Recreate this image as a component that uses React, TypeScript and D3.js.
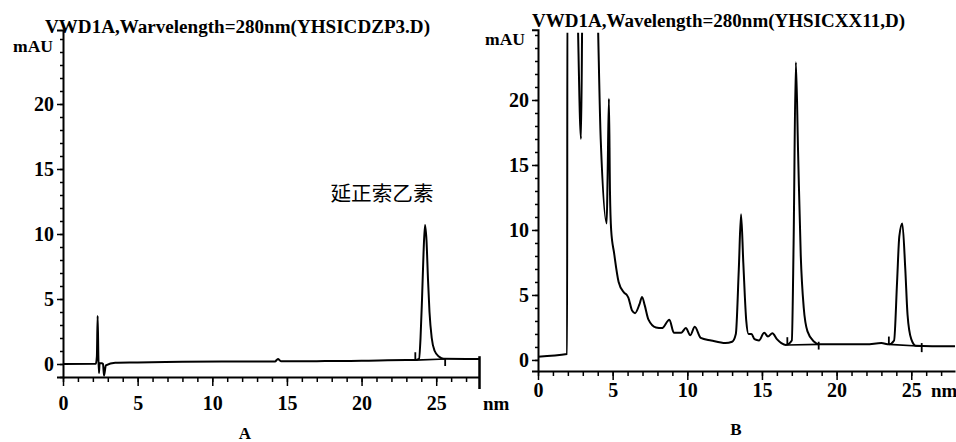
import React, { useEffect, useRef } from 'react';
import * as d3 from 'd3';

// Panel A: reference standard
const rtA = [0, 2.2, 2.27, 2.32, 2.37, 2.41, 2.45, 2.6, 2.68, 2.75, 2.87, 3.5, 5, 8, 12, 14.2, 14.4, 14.6, 17, 20, 23, 23.6, 23.85, 23.95, 24.05, 24.15, 24.25, 24.35, 24.45, 24.55, 24.7, 24.9, 25.2, 25.5, 27.9];
const mauA = [0, 0.02, 0.6, 3.7, 0.5, -0.7, 0.05, 0.05, 0, -0.9, -0.1, 0.1, 0.12, 0.17, 0.2, 0.2, 0.38, 0.22, 0.22, 0.25, 0.3, 0.3, 0.4, 2, 5, 8.5, 10.7, 9.5, 6.5, 4, 2, 1, 0.55, 0.4, 0.38];

// Panel B: sample
const rtB = [0, 1.95, 1.97, 2.55, 2.88, 3.0, 3.88, 4.2, 4.6, 4.66, 4.75, 4.82, 4.9, 5.1, 5.4, 5.75, 5.95, 6.05, 6.3, 6.5, 6.8, 6.97, 7.15, 7.4, 7.9, 8.3, 8.8, 9.1, 9.6, 9.9, 10.2, 10.5, 10.9, 11.6, 12.55, 13.0, 13.25, 13.45, 13.6, 13.75, 13.95, 14.1, 14.3, 14.5, 14.8, 15.15, 15.4, 15.7, 16.0, 16.3, 16.6, 17.0, 17.12, 17.27, 17.42, 17.6, 17.8, 18.05, 18.5, 18.8, 22, 23, 23.5, 23.85, 24.05, 24.2, 24.4, 24.6, 24.75, 25.0, 25.3, 27.93];
const mauB = [0.25, 0.45, 30, 30, 17, 30, 30, 17, 10.5, 14, 20.1, 13, 10, 8.2, 6.0, 5.2, 5.0, 4.8, 3.8, 3.6, 4.3, 4.85, 4.2, 3.1, 2.5, 2.45, 3.1, 2.1, 2.1, 2.45, 1.9, 2.55, 1.7, 1.5, 1.3, 1.4, 2.0, 7, 11.2, 7.5, 3, 2.0, 2.0, 1.6, 1.5, 2.1, 1.8, 2.05, 1.6, 1.3, 1.15, 1.5, 9, 22.9, 16, 8, 4, 2.2, 1.4, 1.2, 1.2, 1.3, 1.2, 1.5, 6, 9.5, 10.5, 7, 3.5, 1.6, 1.1, 1.05];

// integration baselines [start, end, mAU start, mAU end] and peak markers [rt, mAU from, mAU to]
const baseA = [[23.6, 25.6, 0.3, 0.38]];
const baseB = [[16.7, 18.8, 1.15, 1.2], [23.5, 25.7, 1.2, 1.05]];
const marksA = [[23.6, 0.3, 0.9], [25.6, 0.4, -0.15]];
const marksB = [[16.7, 1.15, 1.75], [18.8, 1.4, 0.8], [23.5, 1.2, 1.8], [25.7, 1.3, 0.6]];

const majorX = [0, 5, 10, 15, 20, 25];
const majorY = [0, 5, 10, 15, 20];

const SERIF = 'Liberation Serif, Times New Roman, DejaVu Serif, serif';

function App() {
  const svgRef = useRef(null);

  useEffect(() => {
    const svg = d3.select(svgRef.current);
    svg.selectAll('*').remove();

    const panels = [
      {
        id: 'A',
        rt: rtA, mau: mauA, base: baseA, marks: marksA,
        x: d3.scaleLinear().domain([0, 27.9]).range([63, 479.5]),
        y: d3.scaleLinear().domain([-1, 25.7]).range([377, 29.9]),
        title: 'VWD1A,Warvelength=280nm(YHSICDZP3.D)',
        titleX: 45, titleY: 33, titleLen: 385,
        mauX: 13, mauY: 52,
        labelOff: 33, nmX: 483,
        panelX: 245, panelY: 439,
        endMark: true
      },
      {
        id: 'B',
        rt: rtB, mau: mauB, base: baseB, marks: marksB,
        x: d3.scaleLinear().domain([0, 27.93]).range([538, 955]),
        y: d3.scaleLinear().domain([-0.85, 25.4]).range([371, 29.8]),
        title: 'VWD1A,Wavelength=280nm(YHSICXX11,D)',
        titleX: 532, titleY: 27, titleLen: 373,
        mauX: 485, mauY: 45,
        labelOff: 26, nmX: 931,
        panelX: 736, panelY: 435,
        endMark: false
      }
    ];

    const defs = svg.append('defs');

    panels.forEach(p => {
      const g = svg.append('g').attr('font-family', SERIF).attr('font-weight', 'bold');
      const [x0, x1] = p.x.range();
      const yBottom = p.y.range()[0];
      const yTop = p.y.range()[1];

      defs.append('clipPath').attr('id', `clip-${p.id}`)
        .append('rect')
        .attr('x', x0).attr('y', yTop + 3)
        .attr('width', x1 - x0 + 2).attr('height', yBottom - yTop);

      // title
      g.append('text')
        .attr('x', p.titleX).attr('y', p.titleY)
        .attr('textLength', p.titleLen)
        .attr('lengthAdjust', 'spacingAndGlyphs')
        .attr('font-size', 18)
        .text(p.title);

      g.append('text')
        .attr('x', p.mauX).attr('y', p.mauY)
        .attr('textLength', 40)
        .attr('lengthAdjust', 'spacingAndGlyphs')
        .attr('font-size', 17)
        .text('mAU');

      // y axis: minor ticks
      g.append('g')
        .attr('transform', `translate(${x0},0)`)
        .call(d3.axisLeft(p.y).tickValues(d3.range(Math.ceil(p.y.domain()[0]), 26)).tickSize(3).tickSizeOuter(6).tickFormat(() => ''))
        .call(a => a.select('.domain').attr('stroke-width', 2))
        .call(a => a.selectAll('.tick line').attr('stroke-width', 1.5));

      // y axis: major ticks
      g.append('g')
        .attr('transform', `translate(${x0},0)`)
        .call(d3.axisLeft(p.y).tickValues(majorY).tickSize(6).tickPadding(3))
        .call(a => a.attr('font-family', null).attr('font-size', 20))
        .call(a => a.select('.domain').remove())
        .call(a => a.selectAll('.tick line').attr('stroke-width', 1.5));

      // x axis: minor ticks
      g.append('g')
        .attr('transform', `translate(0,${yBottom})`)
        .call(d3.axisBottom(p.x).tickValues(d3.range(0, 28)).tickSize(5).tickSizeOuter(0).tickFormat(() => ''))
        .call(a => a.select('.domain').attr('stroke-width', 2))
        .call(a => a.selectAll('.tick line').attr('stroke-width', 1.5));

      // x axis: major ticks
      g.append('g')
        .attr('transform', `translate(0,${yBottom})`)
        .call(d3.axisBottom(p.x).tickValues(majorX).tickSize(9))
        .call(a => a.attr('font-family', null).attr('font-size', 20))
        .call(a => a.select('.domain').remove())
        .call(a => a.selectAll('.tick line').attr('stroke-width', 1.5))
        .call(a => a.selectAll('text').attr('y', p.labelOff).attr('dy', 0));

      g.append('text')
        .attr('x', p.nmX).attr('y', yBottom + p.labelOff)
        .attr('font-size', 19)
        .text('nm');

      if (p.endMark) {
        g.append('line')
          .attr('x1', x1).attr('x2', x1)
          .attr('y1', p.y(0.6)).attr('y2', yBottom + 12)
          .attr('stroke', '#000').attr('stroke-width', 2.5);
      }

      // chromatogram trace
      const line = d3.line()
        .x((d, i) => p.x(p.rt[i]))
        .y(d => p.y(d))
        .curve(d3.curveMonotoneX);

      const plot = g.append('g').attr('clip-path', `url(#clip-${p.id})`);

      plot.append('path')
        .datum(p.mau)
        .attr('d', line)
        .attr('fill', 'none')
        .attr('stroke', '#000')
        .attr('stroke-width', 2)
        .attr('stroke-linejoin', 'round');

      plot.selectAll('.base')
        .data(p.base)
        .enter().append('line')
        .attr('x1', d => p.x(d[0])).attr('x2', d => p.x(d[1]))
        .attr('y1', d => p.y(d[2])).attr('y2', d => p.y(d[3]))
        .attr('stroke', '#000').attr('stroke-width', 1.6);

      plot.selectAll('.mark')
        .data(p.marks)
        .enter().append('line')
        .attr('x1', d => p.x(d[0])).attr('x2', d => p.x(d[0]))
        .attr('y1', d => p.y(d[1])).attr('y2', d => p.y(d[2]))
        .attr('stroke', '#000').attr('stroke-width', 1.8);

      g.append('text')
        .attr('x', p.panelX).attr('y', p.panelY)
        .attr('text-anchor', 'middle')
        .attr('font-size', 17)
        .text(p.id);
    });

    // compound label on panel A
    svg.append('text')
      .attr('x', 382).attr('y', 201)
      .attr('text-anchor', 'middle')
      .attr('textLength', 103)
      .attr('lengthAdjust', 'spacingAndGlyphs')
      .attr('font-family', 'Noto Sans CJK SC, sans-serif')
      .attr('font-size', 20)
      .text('延正索乙素');
  }, []);

  return (
    <svg
      ref={svgRef}
      width={956}
      height={442}
      style={{ position: 'absolute', left: 0, top: 0, background: '#fff' }}
    />
  );
}

export default App;
